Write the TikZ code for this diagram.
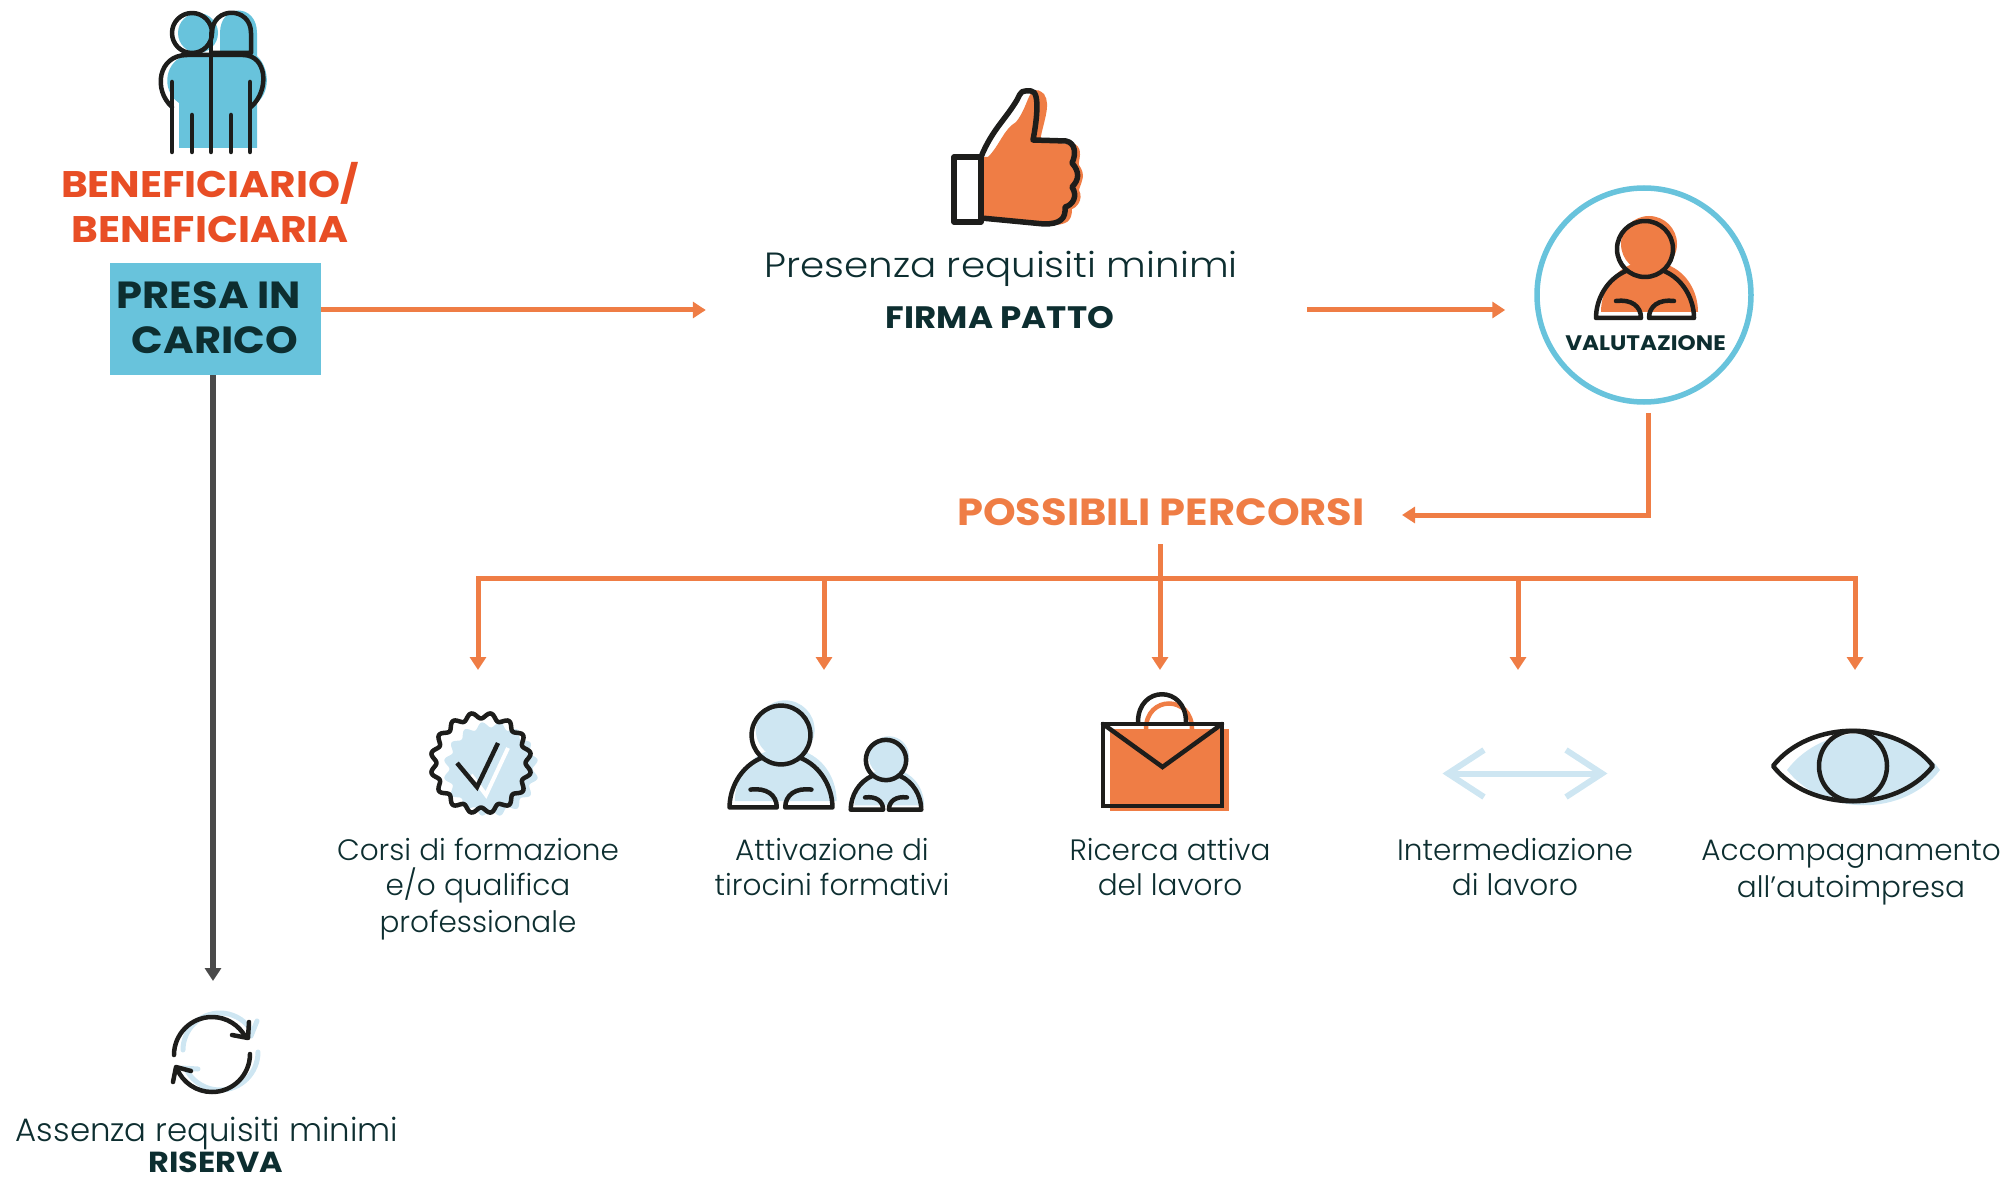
\documentclass[tikz,border=0pt]{standalone}
\usepackage{fontspec}
\setmainfont{Poppins}[UprightFont=* Light,BoldFont=* Bold,BoldFeatures={FakeStretch=1.1}]
\usepackage{tikz}
\usetikzlibrary{arrows.meta}
\definecolor{flowor}{HTML}{EF7D45}
\definecolor{titlered}{HTML}{E84E25}
\definecolor{inkdark}{HTML}{0D2E30}
\definecolor{boxblue}{HTML}{68C3DC}
\definecolor{paleblue}{HTML}{CEE6F2}
\definecolor{iconblack}{HTML}{1D1D1B}
\definecolor{greyline}{HTML}{4A4A4A}
\newcommand{\lineh}{\rule{0pt}{28pt}}
% person with arms, origin in the centre of the head
\newcommand{\personicon}[4]{
  \begin{scope}[shift={(#1,#2)},scale=#3]
    \fill [#4] (4,-5) circle (28);
    \fill [#4] (-15,16) .. controls (-34,24) and (-44,44) .. (-44,63) -- (53,63)
      .. controls (53,44) and (43,24) .. (23,16) -- cycle;
    \draw [icon] (0,0) circle (28);
    \draw [icon] (-19,22) .. controls (-38,30) and (-49,50) .. (-49,69) -- (-4,69)
      .. controls (-4,57) and (-14,50) .. (-29,52);
    \draw [icon] (19,22) .. controls (38,30) and (49,50) .. (49,69) -- (4,69)
      .. controls (4,57) and (14,50) .. (29,52);
  \end{scope}
}
\begin{document}
\begin{tikzpicture}[x=1pt,y=-1pt,>={Triangle[length=13pt,width=16pt]}]
  \tikzstyle{icon}=[draw=iconblack,line width=4.5pt,line join=round,line cap=round]
  \tikzstyle{flow}=[draw=flowor,line width=5pt,->]
  \tikzstyle{plain label}=[inkdark,inner sep=0,align=center,anchor=north,
                           font=\fontsize{29.5}{35.5}\selectfont]
  \tikzstyle{big label}=[inner sep=0,anchor=base,font=\fontsize{37}{37}\selectfont\bfseries]
  \useasboundingbox (0,0) rectangle (2006,1182);

  % beneficiario
  \fill [boxblue] (198,33) circle (20);
  \fill [boxblue] (220,52) -- (220,33) .. controls (220,3) and (257,3) .. (257,33) -- (257,56)
    .. controls (268,66) and (272,90) .. (257,103) -- (257,148) -- (179,148) -- (179,103)
    .. controls (160,90) and (165,60) .. (187,55) -- cycle;
  \draw [icon] (192,33) circle (20);
  \draw [icon] (212,33) .. controls (212,6) and (251,6) .. (251,33) -- (251,53) -- (212,53);
  \draw [icon] (172,107) .. controls (153,90) and (158,55) .. (187,55) -- (243,55)
    .. controls (267,55) and (270,90) .. (251,107);
  \foreach \x/\y in {172/82,192/115,211/33,231/115,250/82}
    \draw [icon] (\x,\y) -- (\x,152);
  \node [big label,titlered] (benef) at (210,198) {BENEFICIARIO/};
  \node [big label,titlered] (benefb) at (210,243) {BENEFICIARIA};
  \node [fill=boxblue,minimum width=211pt,minimum height=112pt,inner sep=0] (presa) at (215.5,319) {};
  \node [big label,inkdark,font=\fontsize{37.8}{37}\selectfont\bfseries] (presaa) at (209,309) {PRESA IN};
  \node [big label,inkdark,font=\fontsize{37.8}{37}\selectfont\bfseries] (presab) at (215,354) {CARICO};

  % riserva
  \coordinate (riservaIn) at (213,981);
  \draw [draw=greyline,line width=6pt,->] (presa.south -| riservaIn) -- (riservaIn);
  \draw [paleblue,line width=5pt,line cap=round] (183,1050) arc (180:325:37);
  \draw [paleblue,line width=5pt,line cap=round] (258,1052) arc (0:150:38);
  \draw [paleblue,line width=5pt,line cap=round] (251,1036) -- (257,1021);
  \draw [paleblue,line width=5pt,line cap=round] (182,1068) -- (198,1069);
  \draw [icon] (174,1055) arc (180:332:38);
  \draw [icon] (250,1054) arc (0:158:38);
  \draw [icon] (232,1035) -- (248,1038) -- (249,1022);
  \draw [icon] (191,1071) -- (176,1067) -- (173,1082);
  \node [plain label,anchor=base,font=\fontsize{32.4}{32}\selectfont] (assenza) at (207,1141) {Assenza requisiti minimi};
  \node [big label,inkdark,font=\fontsize{29}{31}\selectfont\bfseries] (riserva) at (216,1172) {RISERVA};

  % firma patto
  \fill [flowor] (988,157) .. controls (1000,145) and (1003,130) .. (1016,122)
    .. controls (1030,105) and (1028,80) .. (1044,94) .. controls (1052,105) and (1042,125) .. (1040,142)
    -- (1075,144) .. controls (1084,150) and (1078,160) .. (1079,165) .. controls (1086,175) and (1082,180) .. (1079,190)
    .. controls (1084,200) and (1076,208) .. (1072,209) .. controls (1072,222) and (1066,225) .. (1051,225)
    -- (981,220) -- (981,157) -- cycle;
  \draw [icon,line width=5.5pt] (981,157) .. controls (992,130) and (1005,120) .. (1017,100)
    .. controls (1022,90) and (1021,91) .. (1031,91) .. controls (1041,91) and (1036,125) .. (1033,140)
    -- (1066,141) .. controls (1076,143) and (1076,155) .. (1072,163) .. controls (1080,172) and (1079,180) .. (1072,187)
    .. controls (1078,196) and (1073,205) .. (1065,207) .. controls (1066,219) and (1060,224) .. (1044,224)
    -- (981,218);
  \draw [icon,line width=5.5pt] (954,157) rectangle (981,222);
  \node [plain label,anchor=base,font=\fontsize{35}{35}\selectfont\addfontfeature{FakeStretch=1.11}] (presenza) at (1001,278) {Presenza requisiti minimi};
  \node [big label,inkdark,font=\fontsize{31}{31}\selectfont\bfseries] (firma) at (1000,329) {FIRMA PATTO};
  \node [minimum width=601pt,minimum height=4pt,inner sep=0] (patto) at (1006.5,310) {};
  \draw [flow] (presa.east |- patto) -- (patto.west);

  % valutazione
  \node [circle,draw=boxblue,line width=5.5pt,fill=white,minimum size=214pt,inner sep=0] (valut) at (1644,295) {};
  \draw [flow,shorten >=29pt] (patto.east) -- (valut.west |- patto);
  \personicon{1645}{249}{1}{flowor}
  \node [big label,inkdark,font=\fontsize{21}{21}\selectfont\bfseries] (valutlab) at (1645.5,351) {VALUTAZIONE};

  % percorsi
  \node [big label,flowor,font=\fontsize{37.8}{37}\selectfont\bfseries] (percorsi) at (1161,525) {POSSIBILI PERCORSI};
  \coordinate (percorsiIn) at (1402,515);
  \draw [flow] ([xshift=4pt,yshift=-8pt]valut.south) |- (percorsiIn);
  \coordinate (branch) at (1160,578);
  \foreach \x/\name in {478/dropa,824/dropb,1160/dropc,1518/dropd,1855/drope}
    \coordinate (\name) at (\x,670);
  \draw [draw=flowor,line width=5pt] (branch |- 0,544) -- (branch);
  \draw [draw=flowor,line width=5pt,line cap=rect] (dropa |- branch) -- (drope |- branch);
  \foreach \name in {dropa,dropb,dropc,dropd,drope}
    \draw [flow] (\name |- branch) -- (\name);

  % formazione
  \fill [paleblue,shift={(10,6)}] plot [domain=0:360,samples=200,smooth]
    ({481+(44.5-3*cos(16*\x))*cos(\x)},{763+(44.5-3*cos(16*\x))*sin(\x)}) -- cycle;
  \draw [icon] plot [domain=0:360,samples=200,smooth]
    ({481+(47.5-3*cos(16*\x))*cos(\x)},{763+(47.5-3*cos(16*\x))*sin(\x)}) -- cycle;
  \draw [white,line width=4pt] (471,775) -- (486,795) -- (508,748);
  \draw [icon,line cap=butt,line join=miter] (457,763) -- (477,787) -- (498,743);
  \node [plain label] (corsi) at (478,832) {\lineh Corsi di formazione\\\lineh e/o qualifica\\\lineh professionale};

  % tirocini
  \personicon{781}{735}{1.05}{paleblue}
  \personicon{886}{760}{0.72}{paleblue}
  \node [plain label] (tirocini) at (832,832) {\lineh Attivazione di\\\lineh tirocini formativi};

  % ricerca
  \draw [flowor,line width=4.5pt] (1146,729) .. controls (1146,695) and (1192,695) .. (1192,729);
  \fill [flowor] (1110,729) rectangle (1229,811);
  \draw [icon] (1138,722) .. controls (1138,685) and (1186,685) .. (1186,722);
  \draw [icon,line join=miter] (1103,724) rectangle (1222,806);
  \draw [icon,line join=miter] (1103,724) -- (1162.5,767) -- (1222,724);
  \node [plain label] (ricerca) at (1170,832) {\lineh Ricerca attiva\\\lineh del lavoro};

  % intermediazione
  \draw [paleblue,line width=6pt] (1484,750) -- (1448,773.5) -- (1484,797);
  \draw [paleblue,line width=6pt] (1566,750) -- (1602,773.5) -- (1566,797);
  \draw [paleblue,line width=6pt] (1448,773.5) -- (1602,773.5);
  \node [plain label] (interm) at (1515,832) {\lineh Intermediazione\\\lineh di lavoro};

  % autoimpresa
  \fill [paleblue] (1787,770) .. controls (1824,721) and (1904,721) .. (1940,770)
    .. controls (1904,817) and (1824,817) .. (1787,770) -- cycle;
  \draw [icon] (1773,766) .. controls (1810,719) and (1896,719) .. (1933,766)
    .. controls (1896,813) and (1810,813) .. (1773,766) -- cycle;
  \draw [icon] (1853,766) ellipse (34 and 35);
  \node [plain label] (accomp) at (1851,832) {\lineh Accompagnamento\\\lineh all’autoimpresa};
\end{tikzpicture}
\end{document}
